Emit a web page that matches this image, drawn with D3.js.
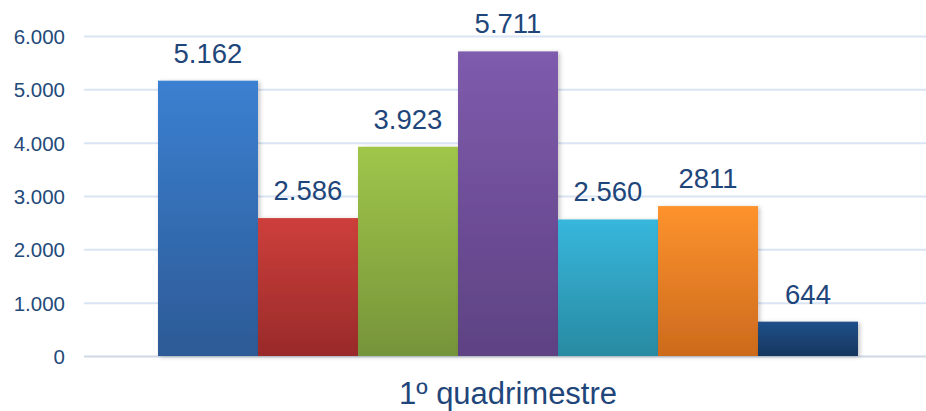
<!DOCTYPE html>
<html><head><meta charset="utf-8">
<script src="https://cdn.jsdelivr.net/npm/d3@7/dist/d3.min.js"></script>
<style>body{margin:0;background:#fff}svg{display:block}</style>
</head><body>
<script>
const category = "1º quadrimestre";
const series = ["S1","S2","S3","S4","S5","S6","S7"];
const values = [5162, 2586, 3923, 5711, 2560, 2811, 644];
const valueLabels = ["5.162","2.586","3.923","5.711","2.560","2811","644"];
const yTicks = [0,1000,2000,3000,4000,5000,6000];
const yTickLabels = ["0","1.000","2.000","3.000","4.000","5.000","6.000"];
const colorsTop = ["#3b80d1","#cd3f3b","#a0c64a","#7f5bad","#37b7dc","#fe932d","#20508a"];
const colorsBot = ["#2d5a96","#992a2a","#76943a","#5e4283","#288aa2","#cc6a1d","#17365f"];

const W=926,H=411;
const svg=d3.select("body").append("svg").attr("width",W).attr("height",H);
const defs=svg.append("defs");
const f=defs.append("filter").attr("id","sh").attr("x","-10%").attr("y","-10%").attr("width","130%").attr("height","130%");
f.append("feDropShadow").attr("dx",2).attr("dy",1).attr("stdDeviation",2).attr("flood-color","#000").attr("flood-opacity",0.22);
series.forEach((s,i)=>{
  const g=defs.append("linearGradient").attr("id","g"+i).attr("x1",0).attr("y1",0).attr("x2",0).attr("y2",1);
  g.append("stop").attr("offset","0%").attr("stop-color",colorsTop[i]);
  g.append("stop").attr("offset","100%").attr("stop-color",colorsBot[i]);
});

const y=d3.scaleLinear().domain([0,6000]).range([356,36]);
const x0=d3.scaleBand().domain([category]).range([84,932]).paddingInner(0).paddingOuter(0.1057);
const x1=d3.scaleBand().domain(series).range([0,x0.bandwidth()]).padding(0);

// gridlines
svg.append("g").selectAll("line").data(yTicks).join("line")
  .attr("x1",84).attr("x2",W).attr("y1",d=>y(d)+0.5).attr("y2",d=>y(d)+0.5)
  .attr("stroke",d=>d===0?"#d0d9e6":"#d9e4f4").attr("stroke-width",2);

// y axis labels
const yAxis=d3.axisLeft(y).tickValues(yTicks).tickFormat((d,i)=>yTickLabels[i]).tickSize(0).tickPadding(0);
const ya=svg.append("g").attr("transform","translate(65,1)").call(yAxis);
ya.select(".domain").remove();
ya.selectAll("text").attr("fill","#244a7a").attr("font-family","Liberation Sans, Arial, sans-serif").attr("font-size",20.5);

const g=svg.append("g").attr("transform",`translate(${x0(category)},0)`);
g.selectAll("rect").data(values).join("rect")
  .attr("x",(d,i)=>x1(series[i])).attr("width",x1.bandwidth())
  .attr("y",d=>y(d)).attr("height",d=>y(0)-y(d))
  .attr("fill",(d,i)=>`url(#g${i})`).attr("filter","url(#sh)");
g.selectAll("text").data(values).join("text")
  .attr("x",(d,i)=>x1(series[i])+x1.bandwidth()/2).attr("y",d=>y(d)-18)
  .attr("text-anchor","middle").attr("fill","#1f467a")
  .attr("font-family","Liberation Sans, Arial, sans-serif").attr("font-size",27.5)
  .text((d,i)=>valueLabels[i]);

// x axis label
const xAxis=d3.axisBottom(x0).tickSize(0).tickPadding(0);
const xa=svg.append("g").attr("transform","translate(0,404)").call(xAxis);
xa.select(".domain").remove();
xa.selectAll("text").attr("fill","#1f467a").attr("font-family","Liberation Sans, Arial, sans-serif").attr("font-size",31).attr("dy","0");
</script>
</body></html>
